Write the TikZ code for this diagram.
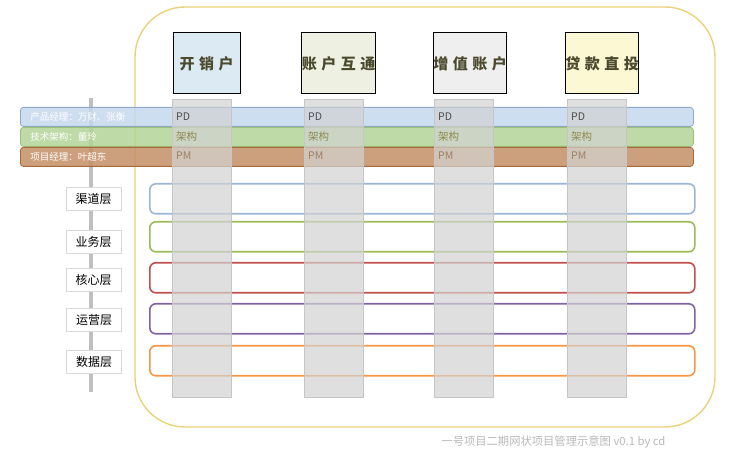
\documentclass[tikz,border=0pt]{standalone}
\usepackage{fontspec}
\setmainfont{Noto Sans CJK SC}
\newfontfamily\headfont[LetterSpace=30]{Noto Sans CJK SC}
\definecolor{gold}{HTML}{EBD27A}
\definecolor{headtext}{HTML}{4B4A2E}
\definecolor{openfill}{HTML}{DCEBF3}
\definecolor{linkfill}{HTML}{EEF1E1}
\definecolor{valuefill}{HTML}{EFEFEF}
\definecolor{loanfill}{HTML}{FBF8D3}
\definecolor{pdblue}{HTML}{C6D8EE}
\definecolor{pdline}{HTML}{8EA9C8}
\definecolor{archgreen}{HTML}{B3D598}
\definecolor{archline}{HTML}{9CBF7A}
\definecolor{pmbrown}{HTML}{C48F66}
\definecolor{pmline}{HTML}{A8683A}
\definecolor{lblue}{HTML}{9BB7D4}
\definecolor{lgreen}{HTML}{9BBB59}
\definecolor{lred}{HTML}{C0504D}
\definecolor{lpurple}{HTML}{8064A2}
\definecolor{lorange}{HTML}{F79646}
\usetikzlibrary{positioning}

\begin{document}
\begin{tikzpicture}[x=1pt, y=-1pt,
		head/.style = {draw=black, line width=1pt, minimum width=67pt, minimum height=61pt, inner sep=0pt, text=headtext, font=\headfont\bfseries\fontsize{15}{15}\selectfont},
		band/.style = {draw=#1, rounded corners=3pt, line width=0.8pt, anchor=north west, minimum width=673pt, minimum height=19pt, text width=653pt, align=left, inner xsep=10pt, inner ysep=0pt, text=white, font=\fontsize{9.5}{9.5}\selectfont, fill opacity=0.85, text opacity=1},
		layerbox/.style = {draw=#1, rounded corners=6pt, line width=1.6pt, anchor=north west, minimum width=545pt, minimum height=30pt},
		tag/.style = {draw=gray!30, fill=white, minimum width=55pt, minimum height=23pt, inner sep=0pt, font=\fontsize{12}{12}\selectfont},
		column/.style = {draw=gray!45, fill=gray!35, fill opacity=0.7, anchor=north west, minimum width=59pt, minimum height=298pt, inner sep=0pt},
		role/.style = {anchor=west, inner sep=0pt, font=\fontsize{10.5}{10.5}\selectfont, text=#1}]
	\useasboundingbox (0,0) rectangle (729,462);
	\draw [gold, line width=1.4pt, rounded corners=50pt] (135,7) rectangle (715,427);
	\draw [gray!50, line width=3.5pt] (91,98) -- (91,392);

	% roles
	\node [band=pdline, fill=pdblue] (pd) at (20,107) {产品经理：万财、张衡};
	\node [band=archline, fill=archgreen] (arch) at (20,127) {技术架构：董玲};
	\node [band=pmline, fill=pmbrown] (pm) at (20,147) {项目经理：叶超东};

	% layers
	\node [layerbox=lblue] (chan) at (149,183) {};
	\node [layerbox=lgreen] (biz) at (149,221) {};
	\node [layerbox=lred] (core) at (149,262) {};
	\node [layerbox=lpurple] (ops) at (149,303) {};
	\node [layerbox=lorange] (data) at (149,345) {};

	\node [tag] (tchan) at (93.5,198.5) {渠道层};
	\node [tag] (tbiz) at (93.5,241.5) {业务层};
	\node [tag] (tcore) at (93.5,280) {核心层};
	\node [tag] (tops) at (94,320) {运营层};
	\node [tag] (tdata) at (94,361.5) {数据层};

	% projects
	\node [head, fill=openfill] (open) at (206.5,63.5) {开销户};
	\node [head, fill=linkfill] (link) at (338.5,63.5) {账户互通};
	\node [head, fill=valuefill] (value) at (470,63.5) {增值账户};
	\node [head, fill=loanfill] (loan) at (602,63.5) {贷款直投};

	\foreach \n/\x in {open/172, link/304, value/434, loan/567}{
		\node [column] (col\n) at (\x,99) {};
		\node [role=gray!60!black] (pd\n) at (\x+4,117) {PD};
		\node [role=gray!55!olive] (arch\n) at (\x+4,137) {架构};
		\node [role=gray!55!brown] (pm\n) at (\x+4,156) {PM};
	}

	\node [anchor=east, text=gray!55, font=\fontsize{11.3}{11.3}\selectfont] (note) at (669,442) {一号项目二期网状项目管理示意图 v0.1 by cd};
	%\node at (364,231) {};
\end{tikzpicture}
\end{document}
